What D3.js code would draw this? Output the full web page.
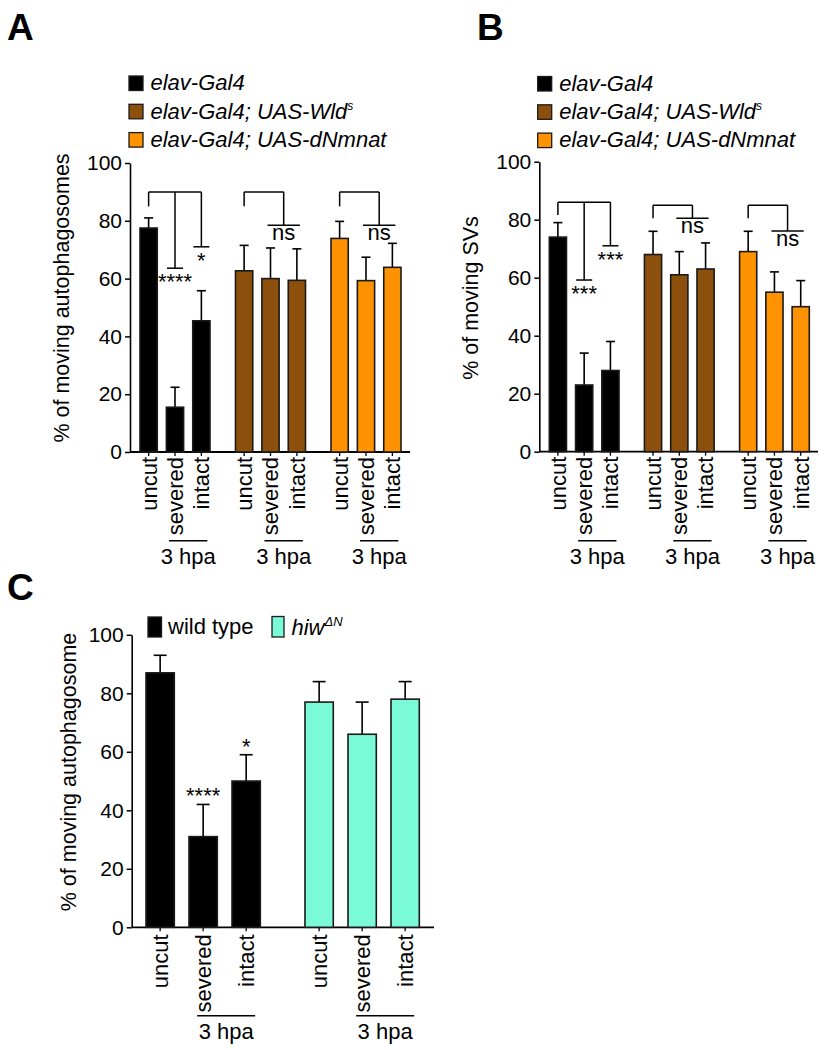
<!DOCTYPE html>
<html><head><meta charset="utf-8">
<script src="https://cdn.jsdelivr.net/npm/d3@7/dist/d3.min.js"></script>
<style>body{margin:0;background:#fff}svg{display:block}text{font-family:"Liberation Sans",Arial,sans-serif;fill:#000}</style>
</head><body>
<script>
// ---------- data ----------
const conditions = ["uncut", "severed", "intact"];
const yTicks = [0, 20, 40, 60, 80, 100];
const genotypesAB = ["elav-Gal4", "elav-Gal4; UAS-Wld", "elav-Gal4; UAS-dNmnat"];
const genotypeSupAB = ["", "s", ""];
const colorsAB = ["#000000", "#8c500c", "#ff9200"];
// panel A: % of moving autophagosomes (mean, SEM)
const meanA = [[77.5, 15.5, 45.4], [62.7, 60.0, 59.4], [73.9, 59.3, 63.9]];
const semA  = [[3.5, 6.9, 10.4], [8.8, 10.6, 10.9], [5.9, 8.1, 8.3]];
// panel B: % of moving SVs
const meanB = [[74, 23, 28], [68, 61, 63], [69, 55, 50]];
const semB  = [[5, 11, 10], [8, 8, 9], [7, 7, 9]];
// panel C: % of moving autophagosome
const genotypesC = ["wild type", "hiw"];
const colorsC = ["#000000", "#7afad7"];
const meanC = [[87, 31, 50], [77, 66, 78]];
const semC  = [[6, 11, 9], [7, 11, 6]];
// significance annotations (bracket levels in data units)
const sigA = [
  {type: "each", top: 90, left: 85, legs: [{c: "severed", to: 63.6, label: "****"}, {c: "intact", to: 71, label: "*"}]},
  {type: "pair", top: 90, left: 85, to: 78.5, label: "ns"},
  {type: "pair", top: 90, left: 85, to: 78.5, label: "ns"}
];
const sigB = [
  {type: "each", top: 86, left: 81.6, legs: [{c: "severed", to: 59.2, label: "***"}, {c: "intact", to: 71, label: "***"}]},
  {type: "pair", top: 85, left: 80.5, to: 80.5, label: "ns"},
  {type: "pair", top: 85, left: 80.5, to: 76.1, label: "ns"}
];
const sigC = [[null, "****", "*"], [null, null, null]];
const hpaLabel = "3 hpa";

// ---------- drawing ----------
const W = 830, H = 1050;
const svg = d3.select("body").append("svg").attr("width", W).attr("height", H);
const FS = 21.5;

function panel(cfg) {
  const g = svg.append("g");
  const y = d3.scaleLinear().domain([0, 100]).range([cfg.y0, cfg.y100]);
  const xg = d3.scaleBand().domain(d3.range(cfg.means.length)).range(cfg.xr).paddingInner(cfg.gpad).paddingOuter(0);
  const xi = d3.scaleBand().domain(conditions).range([0, xg.bandwidth()]).paddingInner(cfg.ipad).paddingOuter(0);
  const cx = (gi, c) => xg(gi) + xi(c) + xi.bandwidth() / 2;

  // y axis
  const ya = g.append("g").attr("transform", `translate(${cfg.ax},0)`)
    .call(d3.axisLeft(y).tickValues(yTicks).tickSize(5).tickPadding(3).tickSizeOuter(0));
  ya.select(".domain").attr("stroke-width", 1.6);
  ya.selectAll(".tick line").attr("stroke-width", 1.5);
  ya.selectAll(".tick text").attr("font-size", cfg.tfs).attr("font-family", '"Liberation Sans",Arial,sans-serif');
  // x axis line
  g.append("line").attr("x1", cfg.ax).attr("x2", cfg.axEnd).attr("y1", y(0)).attr("y2", y(0))
    .attr("stroke", "#000").attr("stroke-width", 1.8);

  // bars & error bars
  cfg.means.forEach((row, gi) => {
    row.forEach((m, ci) => {
      const c = conditions[ci];
      const x0 = xg(gi) + xi(c), bw = xi.bandwidth();
      const top = m + cfg.sems[gi][ci];
      const mid = x0 + bw / 2;
      g.append("line").attr("x1", mid).attr("x2", mid).attr("y1", y(m)).attr("y2", y(top))
        .attr("stroke", "#000").attr("stroke-width", 1.6);
      g.append("line").attr("x1", mid - cfg.cap).attr("x2", mid + cfg.cap).attr("y1", y(top)).attr("y2", y(top))
        .attr("stroke", "#000").attr("stroke-width", 1.6);
      g.append("rect").attr("x", x0).attr("y", y(m)).attr("width", bw).attr("height", y(0) - y(m))
        .attr("fill", cfg.colors[gi]).attr("stroke", "#1a1a1a").attr("stroke-width", 1.6);
      // x tick
      g.append("line").attr("x1", mid).attr("x2", mid).attr("y1", y(0)).attr("y2", y(0) + 4)
        .attr("stroke", "#000").attr("stroke-width", 1.3);
      // x label
      g.append("text").attr("transform", `translate(${mid},${y(0) + cfg.lgap}) rotate(-90)`)
        .attr("text-anchor", "end").attr("dy", "0.36em").attr("font-size", cfg.xfs).text(c);
    });
    // 3 hpa underline
    const s = cx(gi, "severed"), it = cx(gi, "intact");
    g.append("line").attr("x1", s - cfg.ul[0]).attr("x2", it + cfg.ul[1]).attr("y1", cfg.hpaLine).attr("y2", cfg.hpaLine)
      .attr("stroke", "#000").attr("stroke-width", 1.5);
    g.append("text").attr("x", (s - cfg.ul[0] + it + cfg.ul[1]) / 2).attr("y", cfg.hpaY)
      .attr("text-anchor", "middle").attr("font-size", cfg.xfs).text(hpaLabel);
  });

  // y label
  g.append("text").attr("transform", `translate(${cfg.labX},${cfg.labY}) rotate(-90)`)
    .attr("text-anchor", "middle").attr("font-size", cfg.lfs).text(cfg.ylabel);

  return {g, y, xg, xi, cx};
}

function brackets(p, sig) {
  const {g, y, cx} = p;
  const ln = (x1, y1, x2, y2) => g.append("line").attr("x1", x1).attr("y1", y1).attr("x2", x2).attr("y2", y2)
    .attr("stroke", "#000").attr("stroke-width", 1.5);
  sig.forEach((s, gi) => {
    const u = cx(gi, "uncut"), sv = cx(gi, "severed"), it = cx(gi, "intact");
    if (s.type === "each") {
      ln(u, y(s.top), it, y(s.top));
      ln(u, y(s.top), u, y(s.left));
      s.legs.forEach(l => {
        const xx = cx(gi, l.c);
        ln(xx, y(s.top), xx, y(l.to));
        ln(xx - 8, y(l.to), xx + 8, y(l.to));
        g.append("text").attr("x", xx).attr("y", y(l.to) + 21).attr("text-anchor", "middle")
          .attr("font-size", 22).text(l.label);
      });
    } else {
      const m = (sv + it) / 2;
      ln(u, y(s.top), m, y(s.top));
      ln(u, y(s.top), u, y(s.left));
      ln(m, y(s.top), m, y(s.to));
      ln(sv - 3, y(s.to), it + 3, y(s.to));
      g.append("text").attr("x", m).attr("y", y(s.to) + 15).attr("text-anchor", "middle")
        .attr("font-size", 22).text(s.label);
    }
  });
}

function legendAB(x, yTop) {
  genotypesAB.forEach((name, i) => {
    const yy = yTop + i * 28.3;
    svg.append("rect").attr("x", x).attr("y", yy).attr("width", 14).attr("height", 14.5)
      .attr("fill", colorsAB[i]).attr("stroke", "#1a1a1a").attr("stroke-width", 1.3);
    const t = svg.append("text").attr("x", x + 21.5).attr("y", yy + 14.2).attr("font-size", 22)
      .attr("font-style", "italic").text(name);
    if (genotypeSupAB[i]) t.append("tspan").attr("font-size", 12).attr("dy", -9).text(genotypeSupAB[i]);
  });
}

// Panel A
const pA = panel({means: meanA, sems: semA, colors: colorsAB, y0: 452, y100: 163, xr: [140, 401], gpad: 0.267, ipad: 0.346,
  ax: 130, axEnd: 410, cap: 4.5, lgap: 5, hpaLine: 540.7, hpaY: 564, ul: [6, 6], tfs: 21, xfs: 22, lfs: 21.5,
  labX: 69, labY: 298, ylabel: "% of moving autophagosomes"});
brackets(pA, sigA);
// Panel B
const pB = panel({means: meanB, sems: semB, colors: colorsAB, y0: 451.7, y100: 161.7, xr: [549.3, 809.3], gpad: 0.267, ipad: 0.346,
  ax: 539.3, axEnd: 818, cap: 4.5, lgap: 5, hpaLine: 540.7, hpaY: 564, ul: [6, 6], tfs: 21, xfs: 22, lfs: 21.5,
  labX: 478, labY: 298, ylabel: "% of moving SVs"});
brackets(pB, sigB);
// Panel C
const pC = panel({means: meanC, sems: semC, colors: colorsC, y0: 927.3, y100: 634.8, xr: [146, 419.3], gpad: 0.281, ipad: 0.342,
  ax: 131.7, axEnd: 434, cap: 6.5, lgap: 7, hpaLine: 1015.7, hpaY: 1039, ul: [6, 9], tfs: 21, xfs: 22, lfs: 21.5,
  labX: 76, labY: 772, ylabel: "% of moving autophagosome"});
sigC.forEach((row, gi) => row.forEach((lab, ci) => {
  if (!lab) return;
  const c = conditions[ci];
  pC.g.append("text").attr("x", pC.cx(gi, c)).attr("y", pC.y(meanC[gi][ci] + semC[gi][ci]) - 1)
    .attr("text-anchor", "middle").attr("font-size", 22).text(lab);
}));

legendAB(129, 76);
legendAB(537.7, 76.5);

// legend C
svg.append("rect").attr("x", 148).attr("y", 617).attr("width", 13.5).attr("height", 20)
  .attr("fill", colorsC[0]).attr("stroke", "#1a1a1a").attr("stroke-width", 1.3);
svg.append("text").attr("x", 168).attr("y", 634).attr("font-size", 22).text(genotypesC[0]);
svg.append("rect").attr("x", 272).attr("y", 616.5).attr("width", 12).attr("height", 20.5)
  .attr("fill", colorsC[1]).attr("stroke", "#1a1a1a").attr("stroke-width", 1.3);
const tc = svg.append("text").attr("x", 291.5).attr("y", 635).attr("font-size", 22).attr("font-style", "italic").text(genotypesC[1]);
tc.append("tspan").attr("font-size", 13).attr("dy", -9).text("ΔN");

// panel letters
[["A", 7, 40], ["B", 477, 40], ["C", 7, 600]].forEach(([t, x, yy]) =>
  svg.append("text").attr("x", x).attr("y", yy).attr("font-size", 37).attr("font-weight", "bold").text(t));
</script>
</body></html>
